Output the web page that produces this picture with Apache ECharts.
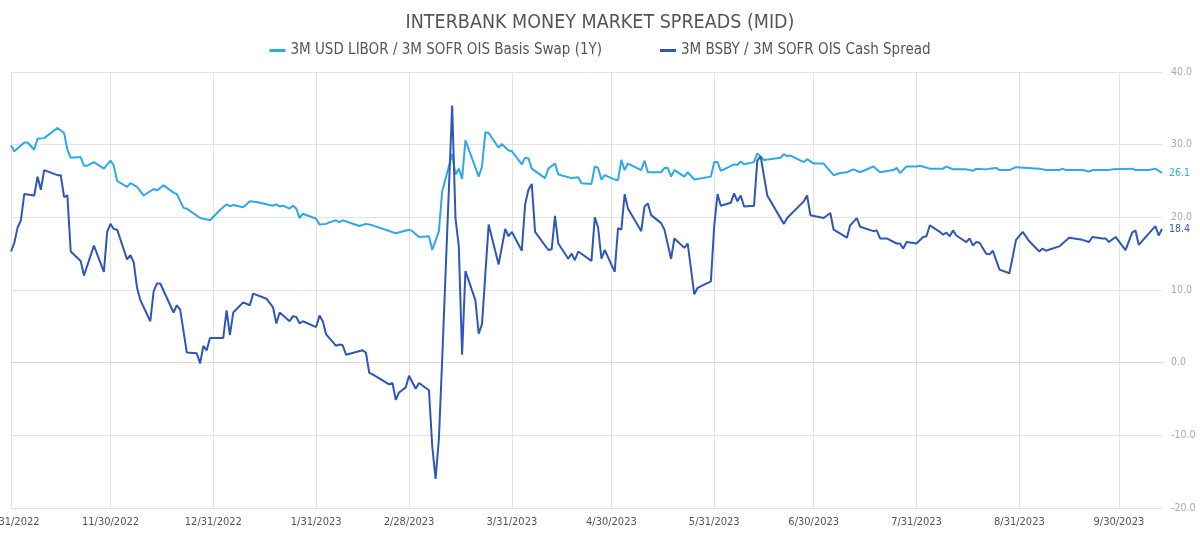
<!DOCTYPE html>
<html>
<head>
<meta charset="utf-8">
<script src="https://cdn.jsdelivr.net/npm/echarts@6/dist/echarts.min.js"></script>
<style>
  html, body { margin: 0; padding: 0; background: #fff; }
  #chart { width: 1200px; height: 533px; }
</style>
</head>
<body>
<div id="chart"></div>
<script>
// 3M USD LIBOR / 3M SOFR OIS Basis Swap (1Y)
const liborDates = [
  '2022-10-31','2022-11-01','2022-11-04','2022-11-05','2022-11-07','2022-11-08','2022-11-10','2022-11-14','2022-11-16','2022-11-17',
  '2022-11-18','2022-11-21','2022-11-22','2022-11-23','2022-11-25','2022-11-28','2022-11-30','2022-12-01','2022-12-02','2022-12-05',
  '2022-12-06','2022-12-08','2022-12-10','2022-12-13','2022-12-14','2022-12-16','2022-12-19','2022-12-20','2022-12-22','2022-12-23',
  '2022-12-27','2022-12-30','2023-01-02','2023-01-04','2023-01-05','2023-01-06','2023-01-09','2023-01-11','2023-01-13','2023-01-18',
  '2023-01-19','2023-01-20','2023-01-21','2023-01-23','2023-01-24','2023-01-25','2023-01-26','2023-01-27','2023-01-31','2023-02-01',
  '2023-02-03','2023-02-04','2023-02-06','2023-02-07','2023-02-08','2023-02-13','2023-02-15','2023-02-17','2023-02-24','2023-02-28',
  '2023-03-01','2023-03-03','2023-03-06','2023-03-07','2023-03-09','2023-03-10','2023-03-13','2023-03-14','2023-03-15','2023-03-16',
  '2023-03-17','2023-03-21','2023-03-22','2023-03-23','2023-03-24','2023-03-27','2023-03-28','2023-03-30','2023-03-31','2023-04-03',
  '2023-04-04','2023-04-05','2023-04-06','2023-04-10','2023-04-11','2023-04-13','2023-04-14','2023-04-18','2023-04-20','2023-04-21',
  '2023-04-24','2023-04-25','2023-04-26','2023-04-27','2023-04-28','2023-05-01','2023-05-02','2023-05-03','2023-05-04','2023-05-05',
  '2023-05-09','2023-05-10','2023-05-11','2023-05-15','2023-05-16','2023-05-17','2023-05-18','2023-05-19','2023-05-22','2023-05-23',
  '2023-05-25','2023-05-30','2023-05-31','2023-06-01','2023-06-02','2023-06-06','2023-06-07','2023-06-08','2023-06-09','2023-06-12',
  '2023-06-13','2023-06-15','2023-06-20','2023-06-21','2023-06-22','2023-06-23','2023-06-27','2023-06-28','2023-06-30','2023-07-03',
  '2023-07-06','2023-07-08','2023-07-10','2023-07-12','2023-07-14','2023-07-18','2023-07-20','2023-07-24','2023-07-25','2023-07-26',
  '2023-07-28','2023-07-31','2023-08-01','2023-08-04','2023-08-08','2023-08-09','2023-08-11','2023-08-15','2023-08-17','2023-08-18',
  '2023-08-21','2023-08-22','2023-08-24','2023-08-25','2023-08-28','2023-08-30','2023-09-06','2023-09-08','2023-09-12','2023-09-13',
  '2023-09-14','2023-09-19','2023-09-21','2023-09-22','2023-09-27','2023-09-28','2023-10-04','2023-10-05','2023-10-09','2023-10-11',
  '2023-10-13'
];
const liborValues = [
  29.9, 29.1, 30.3, 30.3, 29.3, 30.8, 30.9, 32.3, 31.6, 29.3,
  28.2, 28.3, 27.1, 27.1, 27.6, 26.7, 27.8, 27.1, 25.0, 24.2,
  24.7, 24.2, 23.0, 23.9, 23.7, 24.4, 23.4, 23.2, 21.3, 21.2,
  19.9, 19.6, 21.0, 21.8, 21.5, 21.7, 21.4, 22.2, 22.1, 21.6,
  21.8, 21.5, 21.6, 21.2, 21.6, 21.2, 19.9, 20.5, 19.8, 19.0,
  19.1, 19.3, 19.6, 19.3, 19.6, 18.8, 19.1, 18.9, 17.8, 18.3,
  18.1, 17.3, 17.4, 15.5, 18.1, 23.6, 28.7, 25.9, 26.7, 25.3,
  30.6, 25.6, 27.0, 31.7, 31.6, 29.6, 30.1, 29.2, 29.1, 27.3,
  28.2, 28.1, 26.7, 25.4, 26.7, 27.4, 25.9, 25.4, 25.5, 24.7,
  24.6, 27.0, 26.8, 25.2, 25.8, 25.2, 25.1, 27.9, 26.5, 27.4,
  26.5, 27.8, 26.2, 26.2, 26.8, 26.8, 25.6, 26.5, 25.6, 26.2,
  25.2, 25.6, 27.6, 27.6, 26.4, 27.3, 27.2, 27.7, 27.3, 27.6,
  28.8, 27.9, 28.2, 28.7, 28.4, 28.5, 27.6, 28.0, 27.4, 27.4,
  25.8, 26.1, 26.2, 26.6, 26.2, 27.0, 26.2, 26.5, 26.8, 26.1,
  27.0, 27.0, 27.1, 26.7, 26.7, 27.0, 26.6, 26.6, 26.4, 26.7,
  26.6, 26.7, 26.8, 26.5, 26.5, 26.9, 26.7, 26.5, 26.5, 26.7,
  26.5, 26.5, 26.3, 26.5, 26.5, 26.6, 26.7, 26.5, 26.5, 26.7,
  26.1
];

// 3M BSBY / 3M SOFR OIS Cash Spread
const bsbyDates = [
  '2022-10-31','2022-11-01','2022-11-02','2022-11-03','2022-11-04','2022-11-07','2022-11-08','2022-11-09','2022-11-10','2022-11-14',
  '2022-11-15','2022-11-16','2022-11-17','2022-11-18','2022-11-21','2022-11-22','2022-11-25','2022-11-28','2022-11-29','2022-11-30',
  '2022-12-01','2022-12-02','2022-12-05','2022-12-06','2022-12-07','2022-12-08','2022-12-09','2022-12-12','2022-12-13','2022-12-14',
  '2022-12-15','2022-12-19','2022-12-20','2022-12-21','2022-12-23','2022-12-26','2022-12-27','2022-12-28','2022-12-29','2022-12-30',
  '2023-01-03','2023-01-04','2023-01-05','2023-01-06','2023-01-09','2023-01-11','2023-01-12','2023-01-16','2023-01-18','2023-01-19',
  '2023-01-20','2023-01-23','2023-01-24','2023-01-25','2023-01-26','2023-01-27','2023-01-31','2023-02-01','2023-02-02','2023-02-03',
  '2023-02-06','2023-02-07','2023-02-08','2023-02-09','2023-02-14','2023-02-15','2023-02-16','2023-02-17','2023-02-22','2023-02-23',
  '2023-02-24','2023-02-25','2023-02-27','2023-02-28','2023-03-02','2023-03-03','2023-03-06','2023-03-07','2023-03-08','2023-03-09',
  '2023-03-10','2023-03-13','2023-03-14','2023-03-15','2023-03-16','2023-03-17','2023-03-20','2023-03-21','2023-03-22','2023-03-24',
  '2023-03-27','2023-03-29','2023-03-30','2023-03-31','2023-04-03','2023-04-04','2023-04-05','2023-04-06','2023-04-07','2023-04-11',
  '2023-04-12','2023-04-13','2023-04-14','2023-04-17','2023-04-18','2023-04-19','2023-04-20','2023-04-24','2023-04-25','2023-04-26',
  '2023-04-27','2023-04-28','2023-05-01','2023-05-02','2023-05-03','2023-05-04','2023-05-05','2023-05-09','2023-05-10','2023-05-11',
  '2023-05-12','2023-05-15','2023-05-16','2023-05-18','2023-05-19','2023-05-22','2023-05-23','2023-05-25','2023-05-26','2023-05-30',
  '2023-05-31','2023-06-01','2023-06-02','2023-06-05','2023-06-06','2023-06-07','2023-06-08','2023-06-09','2023-06-12','2023-06-13',
  '2023-06-14','2023-06-16','2023-06-21','2023-06-22','2023-06-27','2023-06-28','2023-06-29','2023-07-03','2023-07-05','2023-07-06',
  '2023-07-10','2023-07-11','2023-07-13','2023-07-14','2023-07-18','2023-07-19','2023-07-20','2023-07-22','2023-07-25','2023-07-26',
  '2023-07-27','2023-07-28','2023-07-31','2023-08-02','2023-08-03','2023-08-04','2023-08-07','2023-08-08','2023-08-09','2023-08-10',
  '2023-08-11','2023-08-12','2023-08-15','2023-08-16','2023-08-17','2023-08-18','2023-08-19','2023-08-21','2023-08-22','2023-08-23',
  '2023-08-25','2023-08-28','2023-08-30','2023-09-01','2023-09-03','2023-09-06','2023-09-07','2023-09-08','2023-09-12','2023-09-15',
  '2023-09-19','2023-09-21','2023-09-22','2023-09-25','2023-09-26','2023-09-27','2023-09-29','2023-10-02','2023-10-04','2023-10-05',
  '2023-10-06','2023-10-11','2023-10-12','2023-10-13'
];
const bsbyValues = [
  15.3, 16.5, 18.6, 19.6, 23.2, 23.0, 25.6, 23.8, 26.5, 25.8,
  25.8, 22.8, 23.0, 15.3, 14.0, 12.0, 16.1, 12.5, 18.0, 19.1,
  18.4, 18.3, 14.2, 14.8, 13.8, 10.3, 8.6, 5.7, 9.8, 10.9,
  10.9, 6.9, 7.9, 7.3, 1.4, 1.3, -0.1, 2.3, 1.7, 3.4,
  3.4, 7.2, 3.8, 6.9, 8.3, 7.9, 9.5, 8.8, 7.6, 5.4,
  6.9, 5.7, 6.4, 6.3, 5.4, 5.7, 4.9, 6.5, 5.7, 3.9,
  2.3, 2.5, 2.4, 1.1, 1.7, 1.4, -1.4, -1.6, -3.0, -2.8,
  -5.1, -4.1, -3.4, -1.8, -3.6, -2.8, -3.8, -11.5, -16.0, -10.5,
  0.5, 35.4, 19.9, 16.0, 1.1, 12.6, 8.6, 4.0, 5.3, 19.0,
  13.5, 18.4, 17.4, 18.0, 15.4, 21.8, 23.8, 24.6, 18.0, 15.5,
  15.6, 20.2, 16.4, 14.3, 15.0, 14.1, 15.3, 14.0, 20.0, 18.6,
  14.3, 15.5, 12.5, 18.5, 18.3, 23.2, 21.2, 18.1, 21.5, 21.9,
  20.3, 19.2, 18.3, 14.3, 17.1, 15.8, 16.4, 9.4, 10.3, 11.2,
  18.8, 23.2, 21.6, 22.0, 23.3, 22.2, 23.0, 21.5, 21.6, 27.8,
  28.4, 23.0, 19.1, 19.9, 22.2, 23.0, 20.3, 19.9, 20.6, 18.3,
  17.2, 18.9, 19.9, 18.7, 18.1, 18.2, 17.1, 17.1, 16.4, 16.4,
  15.7, 16.6, 16.4, 17.3, 17.4, 18.9, 18.0, 17.6, 17.9, 17.4,
  18.2, 17.5, 16.6, 17.1, 16.1, 16.6, 16.5, 15.0, 14.9, 15.4,
  12.8, 12.3, 16.9, 18.0, 16.7, 15.3, 15.7, 15.4, 16.0, 17.2,
  16.9, 16.6, 17.3, 17.1, 17.1, 16.6, 17.3, 15.5, 17.9, 18.2,
  16.2, 18.8, 17.5, 18.4
];

// month-end grid lines / labels
const monthEnds = [
  '2022-10-31','2022-11-30','2022-12-31','2023-01-31','2023-02-28','2023-03-31',
  '2023-04-30','2023-05-31','2023-06-30','2023-07-31','2023-08-31','2023-09-30'
];

const toTime = s => new Date(s.replace(/-/g, '/')).getTime();
const pairs = (d, v) => d.map((x, i) => [toTime(x), v[i]]);
const tickTimes = monthEnds.map(toTime);

const LIGHT = '#2fa8ea';
const DARK = '#2f57b8';
const FONT = '"DejaVu Sans Condensed", Roboto, sans-serif';

let myChart = echarts.init(document.getElementById('chart'));
myChart.setOption({
    backgroundColor: '#ffffff',
    animation: false,
    title: {
        text: 'INTERBANK MONEY MARKET SPREADS (MID)',
        left: 'center',
        top: 8,
        textStyle: {
            color: '#555',
            fontSize: 19.5,
            fontWeight: 'normal',
            fontFamily: FONT
        }
    },
    legend: {
        top: 38,
        left: 'center',
        itemGap: 58,
        itemWidth: 16,
        itemHeight: 3,
        icon: 'rect',
        textStyle: {
            color: '#555',
            fontSize: 15,
            fontFamily: FONT
        },
        data: ['3M USD LIBOR / 3M SOFR OIS Basis Swap (1Y)', '3M BSBY / 3M SOFR OIS Cash Spread']
    },
    grid: {
        left: 11,
        right: 38,
        top: 72,
        bottom: 25,
        outerBoundsMode: 'none',
        containLabel: false
    },
    // dates as a value axis so the month-end ticks can be placed exactly
    xAxis: {
        type: 'value',
        min: toTime('2022-10-31'),
        max: toTime('2023-10-13'),
        axisLine: { show: true, lineStyle: { color: '#dcdcdc' } },
        axisTick: { show: false, customValues: tickTimes },
        splitLine: { show: true, lineStyle: { color: '#e3e3e3', width: 1 } },
        axisLabel: {
            customValues: tickTimes,
            color: '#555',
            fontSize: 11,
            margin: 9,
            fontFamily: FONT,
            formatter: function (v) {
                const d = new Date(v);
                return (d.getMonth() + 1) + '/' + d.getDate() + '/' + d.getFullYear();
            }
        }
    },
    yAxis: {
        type: 'value',
        position: 'right',
        min: -20,
        max: 40,
        interval: 10,
        axisLine: { show: false },
        axisTick: { show: false },
        splitLine: { lineStyle: { color: '#e3e3e3' } },
        axisLabel: {
            color: '#aaa',
            fontSize: 10.5,
            margin: 9,
            fontFamily: FONT,
            formatter: v => v.toFixed(1)
        }
    },
    series: [
        {
            name: '3M USD LIBOR / 3M SOFR OIS Basis Swap (1Y)',
            type: 'line',
            showSymbol: false,
            data: pairs(liborDates, liborValues),
            lineStyle: { color: LIGHT, width: 2 },
            itemStyle: { color: LIGHT },
            endLabel: {
                show: true,
                color: LIGHT,
                fontSize: 10.5,
                distance: 7,
                fontFamily: FONT,
                formatter: p => p.value[1].toFixed(1)
            }
        },
        {
            name: '3M BSBY / 3M SOFR OIS Cash Spread',
            type: 'line',
            showSymbol: false,
            data: pairs(bsbyDates, bsbyValues),
            lineStyle: { color: DARK, width: 2 },
            itemStyle: { color: DARK },
            endLabel: {
                show: true,
                color: DARK,
                fontSize: 10.5,
                distance: 7,
                fontFamily: FONT,
                formatter: p => p.value[1].toFixed(1)
            }
        }
    ]
});
</script>
</body>
</html>
